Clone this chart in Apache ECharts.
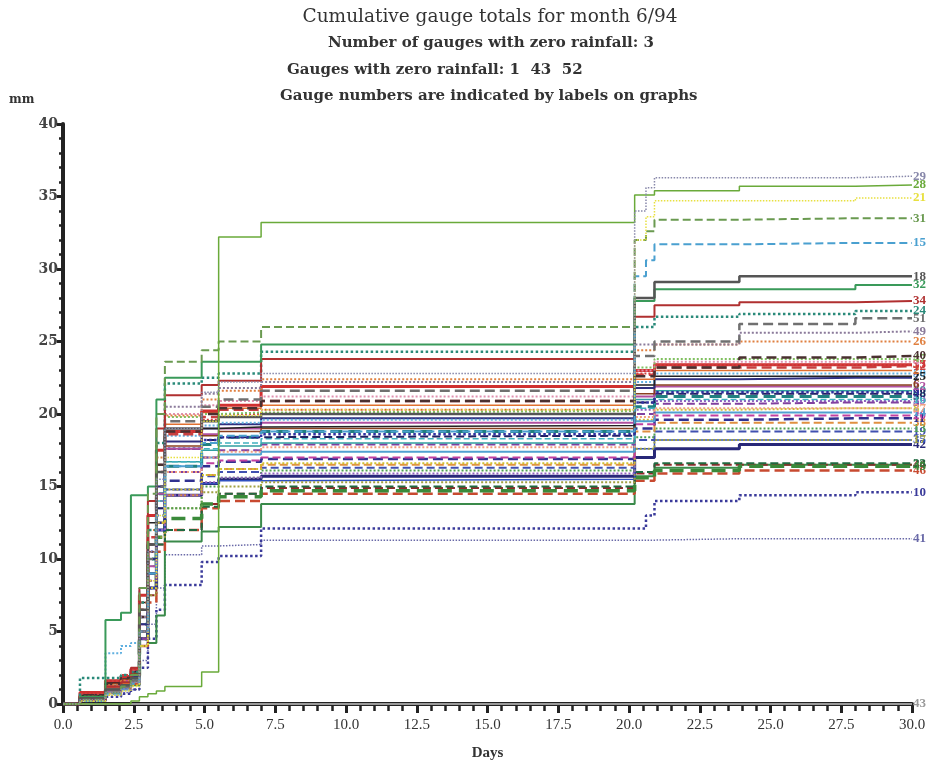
<!DOCTYPE html>
<html>
<head>
<meta charset="utf-8">
<script src="https://cdn.jsdelivr.net/npm/echarts@6/dist/echarts.min.js"></script>
<style>html,body{margin:0;padding:0;background:#fff;}#c{width:930px;height:766px;}</style>
</head>
<body>
<div id="c"></div>
<script>
// Event times (days) shared by every gauge record
const T = [0, 0.6, 1.5, 2.05, 2.4, 2.7, 3.0, 3.3, 3.6, 4.9, 5.5, 7.0, 20.2, 20.6, 20.9, 23.9, 28.0, 30.0];

// Cumulative totals (mm) at each event time
const g29 = [0,0.3,0.8,1.0,1.5,5.0,10.5,15.5,19.0,21.5,22.2,22.8,34.0,35.6,36.3,36.3,36.4,36.4];
const g28 = [0,0,0,0,0.2,0.5,0.7,0.9,1.2,2.2,32.2,33.2,35.1,35.1,35.4,35.7,35.8,35.8];
const g21 = [0,0.2,0.6,0.9,1.2,4.0,8.5,13.0,17.0,19.5,19.9,20.3,32.0,33.6,34.7,34.7,34.9,34.9];
const g31 = [0,0.3,0.8,1.2,2.0,8.0,14.5,20.0,23.6,24.4,25.0,26.0,32.0,32.6,33.4,33.5,33.5,33.5];
const g15 = [0,0.2,0.7,1.0,1.4,5.0,9.0,13.0,16.4,18.0,18.5,18.8,29.5,30.6,31.7,31.8,31.8,31.8];
const g18 = [0,0.4,1.0,1.3,1.8,6.5,11.0,16.0,19.0,19.5,19.8,20.0,28.0,28.0,29.1,29.5,29.5,29.5];
const g32 = [0,0.5,5.8,6.3,14.4,14.4,15.0,21.0,22.5,23.6,23.6,24.8,27.8,27.8,28.6,28.6,28.9,28.9];
const g34 = [0,0.3,1.2,1.5,2.5,8.0,14.0,19.0,21.3,22.0,22.3,23.8,26.7,26.7,27.5,27.7,27.8,27.8];
const g24 = [0,1.8,1.8,2.0,2.2,7.0,12.0,18.0,22.1,22.5,22.8,24.3,26.0,26.0,26.7,26.9,27.1,27.1];
const g51 = [0,0.4,1.0,1.2,1.6,5.0,10.0,15.0,19.5,20.5,21.0,21.6,24.0,24.0,25.0,26.2,26.6,26.6];
const g49 = [0,0.3,0.9,1.1,1.5,6.0,11.0,16.0,20.5,21.4,21.8,22.2,24.8,24.8,24.8,25.6,25.7,25.7];
const g26 = [0,0.5,1.3,1.6,2.0,7.0,12.0,17.0,19.9,21.0,21.6,22.4,24.4,24.4,24.8,25.0,25.0,25.0];
const g40 = [0,0.6,1.4,1.8,2.2,6.0,11.0,16.5,18.8,20.0,20.4,20.9,22.6,22.6,23.2,23.9,24.0,24.0];
const g33 = [0,0.8,1.6,1.9,2.4,7.5,13.0,17.5,18.8,20.2,20.6,21.9,23.0,23.0,23.4,23.4,23.4,23.4];
const g12 = [0,0.5,1.2,1.6,2.0,6.5,11.5,16.0,18.6,19.8,20.3,20.9,22.7,22.7,23.2,23.2,23.3,23.3];
const g7  = [0,0.4,1.1,1.4,1.9,5.5,10.0,15.0,18.1,19.0,19.3,19.7,21.8,21.8,22.4,22.5,22.5,22.5];
const g22 = [0,0.3,0.9,1.2,1.6,5.0,9.5,14.5,17.6,18.6,19.0,19.4,21.2,21.2,21.9,21.9,21.9,21.9];
const g9  = [0,0.6,1.5,1.9,2.3,6.0,10.5,15.0,17.6,18.2,18.4,18.6,20.8,20.8,21.5,21.5,21.5,21.5];
const g3  = [0,0.4,1.0,1.3,1.7,5.5,10.0,14.5,16.4,17.9,18.4,18.8,20.5,20.5,21.2,21.2,21.2,21.2];
const g5  = [0,0.3,0.8,1.1,1.5,4.5,8.5,13.0,16.0,17.0,17.5,17.9,20.0,20.0,20.7,20.8,20.8,20.8];
const g8  = [0,0.2,0.7,1.0,1.3,4.0,8.0,12.5,14.8,15.8,16.2,16.6,19.6,19.6,20.3,20.4,20.4,20.4];
const g14 = [0,0.5,1.2,1.5,1.9,5.0,9.0,13.5,16.4,17.0,17.2,17.4,19.5,19.5,20.1,20.1,20.1,20.1];
const g11 = [0,0.4,1.0,1.3,1.7,4.5,8.0,12.5,15.4,16.4,16.7,16.9,19.0,19.0,19.6,19.7,19.7,19.7];
const g19 = [0,0.6,1.3,1.6,2.0,5.0,9.0,13.0,14.8,15.7,16.0,16.3,18.2,18.2,18.8,18.8,18.8,18.8];
const g42 = [0,0.3,0.9,1.2,1.6,4.5,8.0,12.0,14.4,15.2,15.5,15.7,17.0,17.0,17.6,17.9,17.9,17.9];
const g45 = [0,0.5,1.2,1.5,1.9,4.5,8.0,11.5,12.8,13.8,14.3,14.7,15.6,15.6,16.1,16.4,16.4,16.4];
const g46 = [0,0.3,0.8,1.1,1.4,4.0,7.0,10.5,12.0,13.5,14.0,14.5,15.4,15.4,15.9,16.1,16.1,16.1];
const g10 = [0,0.2,0.5,0.7,1.0,2.5,4.5,6.5,8.2,9.8,10.2,12.1,12.1,13.0,14.0,14.4,14.6,14.6];
const g41 = [0,0.2,0.6,0.8,1.0,3.0,5.5,8.0,10.3,10.9,11.0,11.3,11.3,11.3,11.4,11.4,11.4,11.4];
const g36 = [0,0.4,1.0,1.3,1.3,4.0,4.2,6.1,11.2,11.9,12.2,13.8,15.7,15.7,16.3,16.5,16.5,16.5];
const g50 = [0,0.5,3.5,4.0,4.2,8.0,12.0,16.0,18.5,19.2,19.4,19.6,22.2,22.2,22.8,22.8,22.8,22.8];
const g2  = [0,0.4,1.1,1.4,1.8,6.0,11.0,16.0,19.3,20.1,20.4,20.6,22.4,22.4,23.0,23.0,23.0,23.0];
const g4  = [0,0.3,0.9,1.2,1.6,6.0,11.0,16.0,20.0,20.6,20.9,21.2,23.0,23.0,23.6,23.6,23.6,23.6];
const g6  = [0,0.6,1.4,1.7,2.1,6.0,10.5,15.0,17.8,18.5,18.8,19.0,21.4,21.4,22.0,22.0,22.0,22.0];
const g13 = [0,0.5,1.2,1.5,1.9,5.0,9.0,12.5,13.5,15.0,15.6,16.1,18.4,18.4,19.0,19.0,19.0,19.0];
const g16 = [0,0.4,1.0,1.3,1.7,5.0,9.5,14.0,16.7,17.6,18.0,18.3,20.4,20.4,21.0,21.0,21.0,21.0];
const g17 = [0,0.3,0.8,1.1,1.5,4.0,7.5,11.5,13.5,14.6,15.0,15.3,17.6,17.6,18.2,18.2,18.2,18.2];
const g20 = [0,0.5,1.3,1.6,2.0,5.5,9.5,14.0,16.0,16.6,16.8,17.0,19.3,19.3,19.9,19.9,19.9,19.9];
const g23 = [0,0.4,1.0,1.3,1.7,4.5,8.0,11.0,12.0,13.6,14.5,15.0,16.0,16.0,16.6,16.6,16.6,16.6];
const g25 = [0,0.6,1.5,1.8,2.2,7.0,12.5,17.5,18.8,19.0,19.1,19.2,22.0,22.0,22.6,22.6,22.6,22.6];
const g27 = [0,0.3,0.9,1.2,1.6,5.0,9.0,13.5,16.0,17.0,17.4,17.7,19.8,19.8,20.4,20.4,20.4,20.4];
const g30 = [0,0.4,1.1,1.4,1.8,5.5,10.0,14.5,16.7,17.5,17.8,18.0,21.0,21.0,21.6,21.6,21.6,21.6];
const g35 = [0,0.5,1.2,1.5,1.9,4.5,8.0,12.0,14.8,15.2,15.4,15.5,17.6,17.6,18.2,18.2,18.2,18.2];
const g37 = [0,0.7,1.6,2.0,2.4,7.0,12.0,16.5,18.8,19.6,20.0,20.3,22.8,22.8,23.4,23.4,23.4,23.4];
const g38 = [0,0.3,0.9,1.2,1.6,4.5,8.5,12.5,14.4,15.8,16.2,16.5,18.8,18.8,19.4,19.4,19.4,19.4];
const g39 = [0,0.4,1.0,1.3,1.7,4.5,8.0,12.0,14.4,15.3,15.6,15.9,20.3,20.3,20.9,20.9,20.9,20.9];
const g44 = [0,0.5,1.2,1.5,1.9,4.0,7.5,11.0,12.0,13.8,14.5,14.9,15.9,15.9,16.5,16.5,16.5,16.5];
const g47 = [0,0.3,0.9,1.2,1.6,6.0,11.0,16.0,19.8,20.0,20.1,20.2,23.2,23.2,23.8,23.8,23.8,23.8];
const g48 = [0,0.4,1.1,1.4,1.8,5.0,9.0,13.5,17.6,18.2,18.4,18.5,20.8,20.8,21.4,21.4,21.4,21.4];
const g1  = [0,0,0,0,0,0,0,0,0,0,0,0,0,0,0,0,0,0];
const g43 = [0,0,0,0,0,0,0,0,0,0,0,0,0,0,0,0,0,0];
const g52 = [0,0,0,0,0,0,0,0,0,0,0,0,0,0,0,0,0,0];

// Gauge numbers and their records (parallel lists)
const gaugeIds = ['1','52','43','41','10','36','46','44','23','45','42','35','17','19','13','38','39','11','8','20','14','5','27','30','3','16','48','9','22','6','7','50','25','2','12','33','37','4','47','40','26','49','51','24','34','32','18','15','31','21','28','29'];
const gaugeData = [g1,g52,g43,g41,g10,g36,g46,g44,g23,g45,g42,g35,g17,g19,g13,g38,g39,g11,g8,g20,g14,g5,g27,g30,g3,g16,g48,g9,g22,g6,g7,g50,g25,g2,g12,g33,g37,g4,g47,g40,g26,g49,g51,g24,g34,g32,g18,g15,g31,g21,g28,g29];

// Styles (parallel lists)
const gaugeColors = ['#9a9a9a','#9a9a9a','#9a9a9a','#6a6aa8','#3a3a9a','#3a8a4a','#c84a30','#902828','#206a40','#3a8a3a','#282878','#3050c0','#a0a040','#4050b0','#50a050','#e09040','#9060c0','#303090','#d0c030','#c040a0','#50a0d0','#8040a0','#f0a080','#30a0a0','#208080','#40b0c0','#202060','#3030a0','#b050a0','#8a4020','#303080','#60b0e0','#222222','#e07030','#c84040','#d03030','#d04040','#e090b0','#80c060','#4a3030','#e08040','#8a7a9a','#707070','#2a8a7a','#b03030','#3a9a5a','#555555','#4aa0d0','#6a9a50','#e8e040','#6aaa3a','#8888aa'];
const gaugeTypes = ['solid','solid','solid','dotted','dotted','solid','dashed','dashed','dashed','dashed','solid','solid','dotted','dashed','dotted','dashed','dotted','dashed','dotted','dashed','solid','dashed','dotted','solid','dashed','dashed','dashed','dotted','solid','solid','solid','dotted','solid','solid','dashed','solid','dotted','dotted','dotted','dashed','dotted','dotted','dashed','dotted','solid','solid','solid','dashed','dashed','dotted','solid','dotted'];
const gaugeWidths = [2,2,2,1.5,2.5,2,2.5,2,2,3.5,3,1.5,2,2,2,2,2,2.5,2,2,2,2,2,1.5,3,1.5,2,2.5,2,1.5,2,2,1.5,1.5,2.5,3,2,2,2,2.5,2,2,2.5,2.5,2,2,2.5,2,2,1.5,1.5,1.5];

const xTicks = {min: 0, max: 30, interval: 2.5};
const yTicks = {min: 0, max: 40, interval: 5};

const chart = echarts.init(document.getElementById('c'), null, {renderer: 'canvas'});
const serif = '"DejaVu Serif", "Liberation Serif", serif';
const axisFont = '"Liberation Serif", serif';

const series = gaugeIds.map((id, k) => ({
  name: id,
  type: 'line',
  step: 'end',
  symbol: 'none',
  data: T.map((t, i) => [t, gaugeData[k][i]]),
  lineStyle: {color: gaugeColors[k], width: gaugeWidths[k], type: gaugeTypes[k]},
  itemStyle: {color: gaugeColors[k]},
  endLabel: {
    show: (id !== '1' && id !== '52'),
    formatter: id,
    color: gaugeColors[k],
    fontFamily: axisFont,
    fontWeight: 'bold',
    fontSize: 13,
    distance: 1
  },
  emphasis: {disabled: true},
  silent: true
}));

chart.setOption({
  animation: false,
  backgroundColor: '#ffffff',
  grid: {left: 63, right: 18, top: 124, bottom: 60, containLabel: false},
  xAxis: {
    type: 'value', min: xTicks.min, max: xTicks.max, interval: xTicks.interval,
    name: 'Days', nameLocation: 'middle', nameGap: 42,
    nameTextStyle: {fontFamily: axisFont, fontWeight: 'bold', fontSize: 15, color: '#333'},
    axisLine: {onZero: false, lineStyle: {color: '#222', width: 4}},
    axisTick: {show: true, length: 9, lineStyle: {color: '#222', width: 3}},
    minorTick: {show: true, splitNumber: 5, length: 7, lineStyle: {color: '#222', width: 2.5}},
    axisLabel: {formatter: v => v.toFixed(1), fontFamily: axisFont, fontSize: 15, color: '#333', margin: 14},
    splitLine: {show: false}
  },
  yAxis: {
    type: 'value', min: yTicks.min, max: yTicks.max, interval: yTicks.interval,
    axisLine: {onZero: false, lineStyle: {color: '#222', width: 4}},
    axisTick: {show: true, length: 6, lineStyle: {color: '#222', width: 3}},
    minorTick: {show: true, splitNumber: 5, length: 4, lineStyle: {color: '#222', width: 2.5}},
    axisLabel: {fontFamily: serif, fontWeight: 'bold', fontSize: 14, color: '#444', margin: 5},
    splitLine: {show: false}
  },
  graphic: [
    {type: 'text', x: 490, y: 8, style: {text: 'Cumulative gauge totals for month 6/94', font: '18.5px ' + serif, fill: '#333', textAlign: 'center'}},
    {type: 'text', x: 491, y: 36, style: {text: 'Number of gauges with zero rainfall: 3', font: 'bold 15px ' + serif, fill: '#333', textAlign: 'center'}},
    {type: 'text', x: 287, y: 63, style: {text: 'Gauges with zero rainfall: 1  43  52', font: 'bold 15px ' + serif, fill: '#333'}},
    {type: 'text', x: 280, y: 89, style: {text: 'Gauge numbers are indicated by labels on graphs', font: 'bold 15px ' + serif, fill: '#333'}},
    {type: 'text', x: 9, y: 94, style: {text: 'mm', font: 'bold 12px ' + serif, fill: '#333'}}
  ],
  series: series
});
</script>
</body>
</html>
